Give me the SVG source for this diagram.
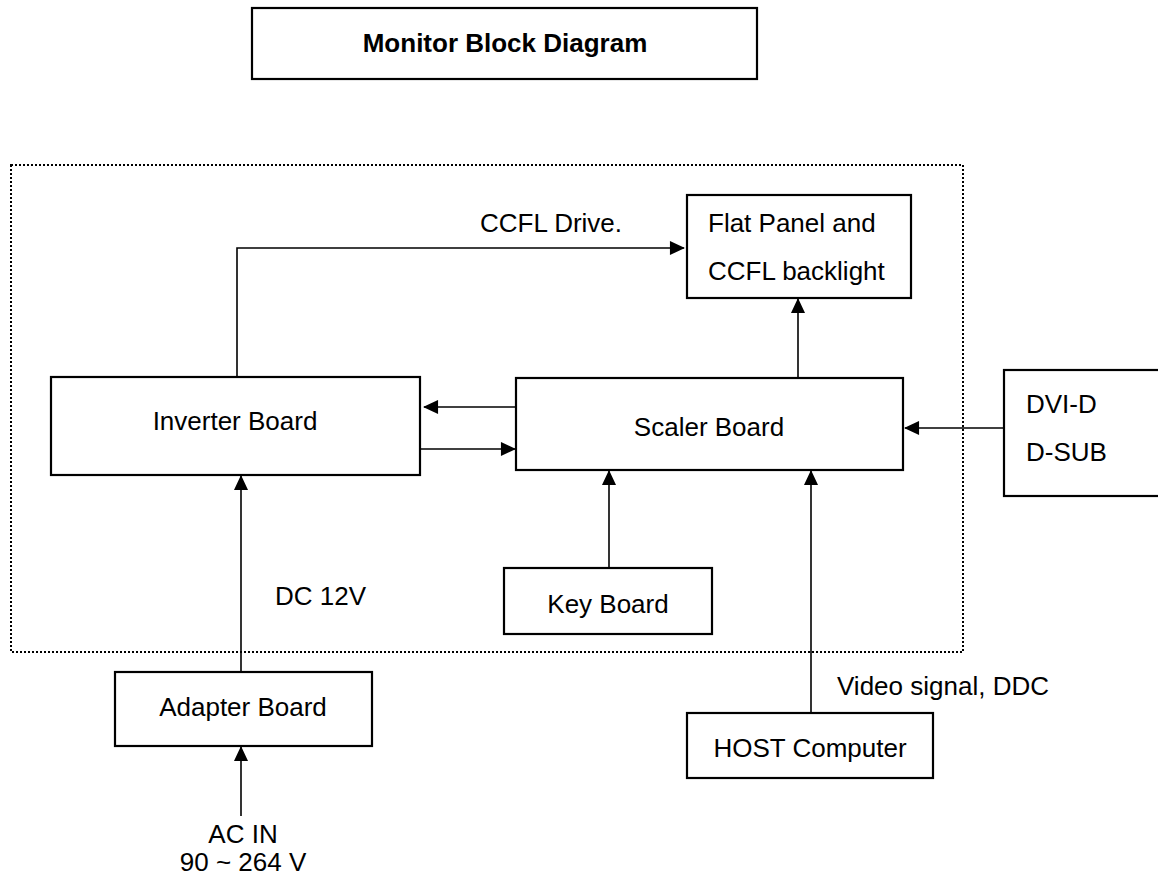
<svg xmlns="http://www.w3.org/2000/svg" width="1158" height="884" viewBox="0 0 1158 884">
<style>
.box{fill:#fff;stroke:#000;stroke-width:2.2}
.t{font-family:"Liberation Sans",Arial,sans-serif;font-size:26px;fill:#000}
.c{text-anchor:middle}
.ln{fill:none;stroke:#000;stroke-width:1.6}
.dot{fill:none;stroke:#000;stroke-width:2;stroke-dasharray:2 2}
</style>
<defs>
<marker id="ah" viewBox="0 0 16 16" refX="15" refY="8" markerWidth="16" markerHeight="15" markerUnits="userSpaceOnUse" orient="auto">
<path d="M0,0.5 L16,8 L0,15.5 Z" fill="#000"/>
</marker>
</defs>
<rect width="1158" height="884" fill="#fff"/>
<g id="title">
<rect class="box" x="252" y="8" width="505" height="71"/>
<text class="t c" x="505" y="52" font-weight="bold">Monitor Block Diagram</text>
</g>
<g id="enclosure">
<rect class="dot" x="11" y="165" width="952" height="487"/>
</g>
<g id="connectors">
<path class="ln" d="M237,377 V248 H684" marker-end="url(#ah)"/>
<path class="ln" d="M798,378 V299" marker-end="url(#ah)"/>
<path class="ln" d="M516,407 H424" marker-end="url(#ah)"/>
<path class="ln" d="M420,449 H515" marker-end="url(#ah)"/>
<path class="ln" d="M1004,428 H905" marker-end="url(#ah)"/>
<path class="ln" d="M609,568 V471" marker-end="url(#ah)"/>
<path class="ln" d="M811,713 V471" marker-end="url(#ah)"/>
<path class="ln" d="M241,672 V476" marker-end="url(#ah)"/>
<path class="ln" d="M241,816 V747" marker-end="url(#ah)"/>
<text class="t" x="480" y="232">CCFL Drive.</text>
<text class="t" x="275" y="605">DC 12V</text>
<text class="t" x="837" y="695">Video signal, DDC</text>
<text class="t c" x="243" y="843">AC IN</text>
<text class="t c" x="243" y="871">90 ~ 264 V</text>
</g>
<g id="flat-panel">
<rect class="box" x="687" y="195" width="224" height="103"/>
<text class="t" x="708" y="232">Flat Panel and</text>
<text class="t" x="708" y="280">CCFL backlight</text>
</g>
<g id="inverter">
<rect class="box" x="51" y="377" width="369" height="98"/>
<text class="t c" x="235" y="430">Inverter Board</text>
</g>
<g id="scaler">
<rect class="box" x="516" y="378" width="387" height="92"/>
<text class="t c" x="709" y="436">Scaler Board</text>
</g>
<g id="dvi">
<rect class="box" x="1004" y="370" width="170" height="126"/>
<text class="t" x="1026" y="413">DVI-D</text>
<text class="t" x="1026" y="461">D-SUB</text>
</g>
<g id="keyboard">
<rect class="box" x="504" y="568" width="208" height="66"/>
<text class="t c" x="608" y="613">Key Board</text>
</g>
<g id="host">
<rect class="box" x="687" y="713" width="246" height="65"/>
<text class="t c" x="810" y="757">HOST Computer</text>
</g>
<g id="adapter">
<rect class="box" x="115" y="672" width="257" height="74"/>
<text class="t c" x="243" y="716">Adapter Board</text>
</g>
</svg>
